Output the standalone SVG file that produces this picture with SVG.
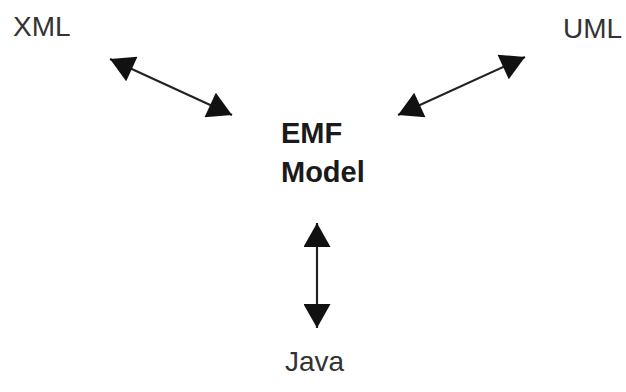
<svg xmlns="http://www.w3.org/2000/svg" width="626" height="392" viewBox="0 0 626 392">
<style>
.lbl{font-family:"Liberation Sans",Arial,sans-serif;font-size:28px;fill:#333}
.main{font-family:"Liberation Sans",Arial,sans-serif;font-size:29px;font-weight:bold;fill:#1a1a1a}
.conn{stroke:#222;stroke-width:2.2;fill:none;marker-start:url(#ah);marker-end:url(#ah)}
</style>
<defs>
<marker id="ah" markerUnits="userSpaceOnUse" markerWidth="26" markerHeight="27" viewBox="0 0 24 27" refX="24" refY="13.5" orient="auto-start-reverse">
<path d="M0,0 L24,13.5 L0,27 Z" fill="#111"/>
</marker>
</defs>
<rect width="626" height="392" fill="#fff"/>
<g id="connectors">
<line class="conn" x1="110" y1="59" x2="232" y2="115"/>
<line class="conn" x1="525" y1="57" x2="398" y2="115"/>
<line class="conn" x1="317" y1="223" x2="317" y2="328"/>
</g>
<g id="xml"><text class="lbl" x="13" y="36">XML</text></g>
<g id="uml"><text class="lbl" x="563" y="38">UML</text></g>
<g id="emf"><text class="main" x="281" y="143">EMF</text><text class="main" x="281" y="182">Model</text></g>
<g id="java"><text class="lbl" x="285" y="371">Java</text></g>
</svg>
